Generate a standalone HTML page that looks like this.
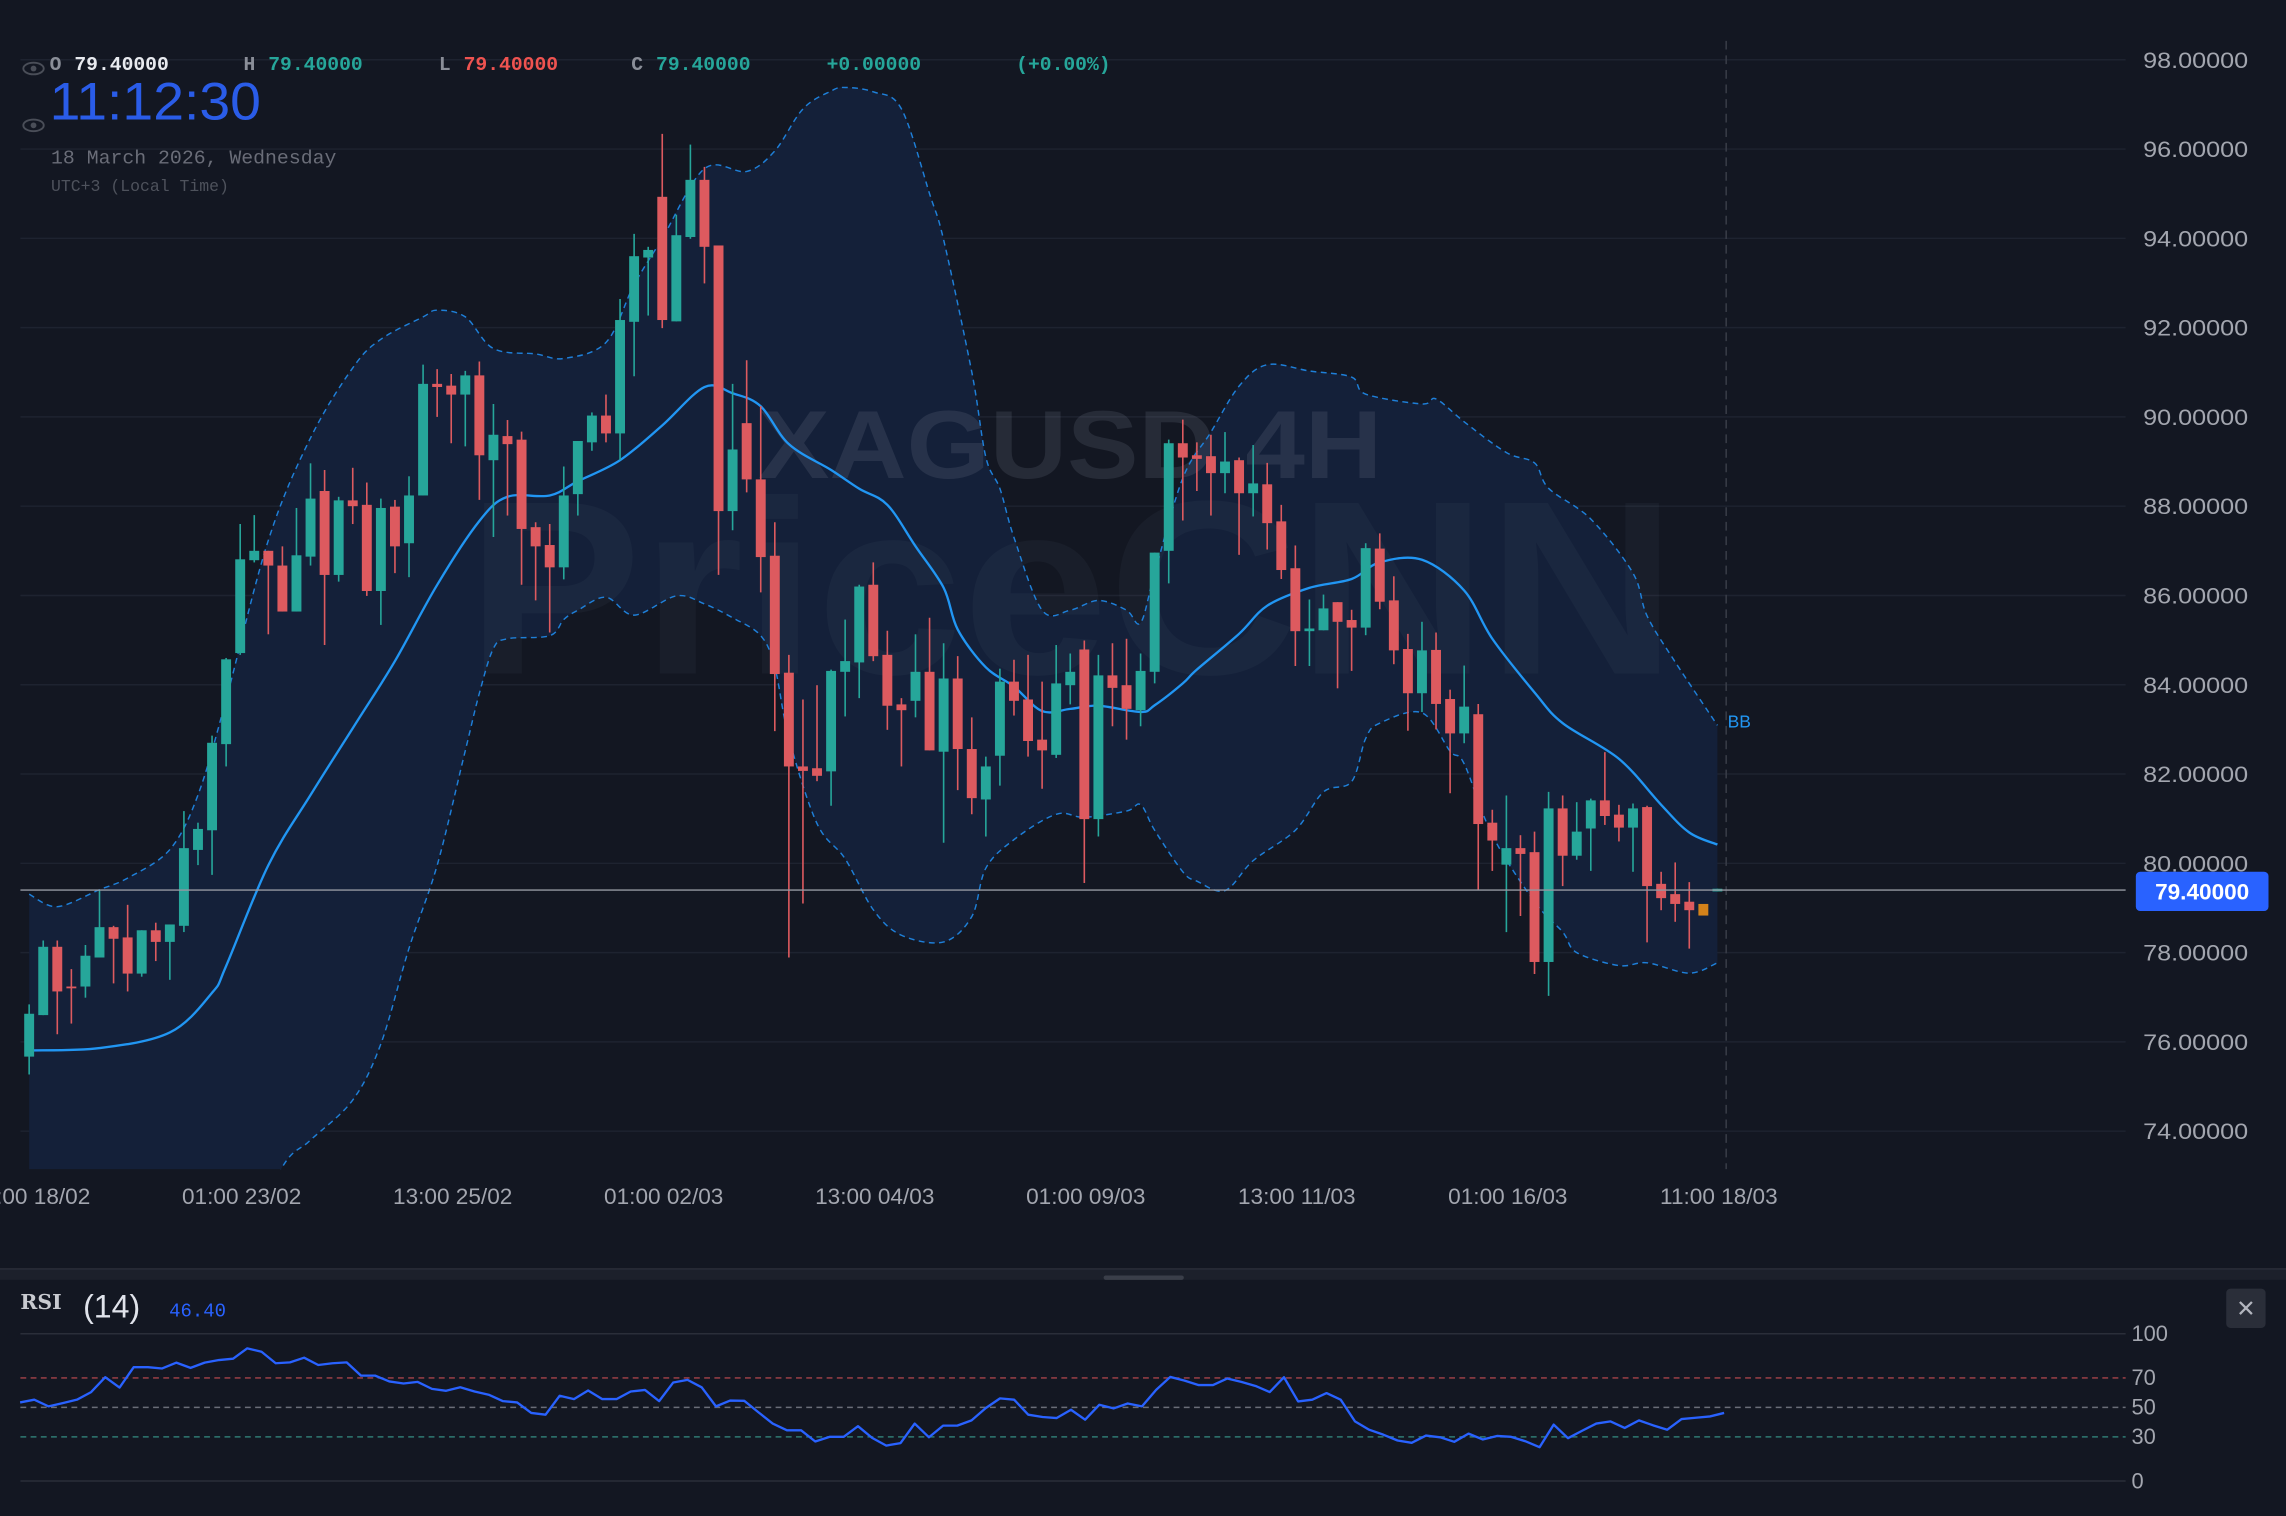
<!DOCTYPE html>
<html><head><meta charset="utf-8">
<style>
html,body{margin:0;padding:0;background:#131722;overflow:hidden}
svg{display:block}
</style></head>
<body>
<svg id="chart" width="2286" height="1516" viewBox="0 0 1568 1040" preserveAspectRatio="none" xmlns="http://www.w3.org/2000/svg">
  <rect x="0" y="0" width="1568" height="1040" fill="#131722"/>
  <defs><clipPath id="priceClip"><rect x="0" y="0" width="1460" height="802"/></clipPath></defs>
  <g id="grid"></g>
  <g id="bands" clip-path="url(#priceClip)"></g>
  <g id="watermark">
    <text x="520" y="328" font-family="Liberation Sans, sans-serif" font-size="66" font-weight="bold" textLength="428" lengthAdjust="spacingAndGlyphs" fill="rgba(140,150,170,0.16)">XAGUSD 4H</text>
    <text x="320" y="462" font-family="Liberation Sans, sans-serif" font-size="170" font-weight="bold" textLength="830" lengthAdjust="spacingAndGlyphs" fill="rgba(140,150,170,0.06)">PriceCNN</text>
  </g>
  <g id="bandLines" clip-path="url(#priceClip)"></g>
  <g id="candles" clip-path="url(#priceClip)"></g>
  <g id="axes"></g>
  <g id="rsi"></g>

  <g font-family="Liberation Mono, monospace" font-size="13.5" font-weight="bold">
    <text x="34" y="48" fill="#8a8e98">O</text>
    <text x="51" y="48" fill="#e8eaef">79.40000</text>
    <text x="167" y="48" fill="#8a8e98">H</text>
    <text x="184" y="48" fill="#26a69a">79.40000</text>
    <text x="301" y="48" fill="#8a8e98">L</text>
    <text x="318" y="48" fill="#ef5350">79.40000</text>
    <text x="433" y="48" fill="#8a8e98">C</text>
    <text x="450" y="48" fill="#26a69a">79.40000</text>
    <text x="567" y="48" fill="#26a69a">+0.00000</text>
    <text x="697" y="48" fill="#26a69a">(+0.00%)</text>
  </g>
  <g><ellipse cx="23" cy="47" rx="7" ry="4" fill="none" stroke="#4a4e58" stroke-width="1.3"/><circle cx="23" cy="47" r="2" fill="#4a4e58"/></g>
  <g><ellipse cx="23" cy="86" rx="7" ry="4" fill="none" stroke="#4a4e58" stroke-width="1.3"/><circle cx="23" cy="86" r="2" fill="#4a4e58"/></g>
  <text x="34" y="82" font-family="Liberation Sans, sans-serif" font-size="36" textLength="145" lengthAdjust="spacingAndGlyphs" fill="#2a5ce8">11:12:30</text>
  <text x="35" y="112" font-family="Liberation Mono, monospace" font-size="13.6" fill="#6a6d78">18 March 2026, Wednesday</text>
  <text x="35" y="131" font-family="Liberation Mono, monospace" font-size="11.3" fill="#4e525c">UTC+3 (Local Time)</text>

  <line x1="1184" y1="28" x2="1184" y2="802" stroke="#3a3e49" stroke-width="1" stroke-dasharray="6,4"/>
  <text x="1185" y="499" font-family="Liberation Sans, sans-serif" font-size="12" fill="#2196f3">BB</text>

  <rect x="0" y="870" width="1568" height="8" fill="#1c202b"/>
  <line x1="0" y1="870.5" x2="1568" y2="870.5" stroke="#2a2e39" stroke-width="1"/>
  <rect x="757" y="875" width="55" height="3" rx="1.5" fill="#3a3e49"/>
  <text x="14" y="898" font-family="DejaVu Serif, serif" font-size="14" font-weight="bold" fill="#c8cad0">RSI</text>
  <text x="57" y="904" font-family="Liberation Sans, sans-serif" font-size="22" fill="#e0e3eb">(14)</text>
  <text x="116" y="903" font-family="Liberation Mono, monospace" font-size="13" fill="#2962ff">46.40</text>
  <g>
    <rect x="1527" y="884" width="27" height="27" rx="3" fill="#2a2e39"/>
    <text x="1540.5" y="903" text-anchor="middle" font-family="DejaVu Sans, sans-serif" font-size="16" fill="#b2b5be">✕</text>
  </g>

  <line x1="14" y1="610.6" x2="1458" y2="610.6" stroke="#9598a1" stroke-width="1"/>
  <g>
    <rect x="1465" y="598" width="91" height="27" rx="3" fill="#2962ff"/>
    <text x="1510.5" y="617" text-anchor="middle" font-family="Liberation Sans, sans-serif" font-size="15.5" font-weight="bold" fill="#ffffff">79.40000</text>
  </g>
</svg>
<script>
const opens = [75.67,76.6,78.13,77.24,77.24,77.89,78.57,78.34,77.53,78.5,
78.24,78.6,80.3,80.74,82.67,84.71,86.79,87.0,86.67,85.64,
86.87,88.34,86.46,88.13,88.03,86.1,87.99,87.17,88.24,90.74,
90.7,90.5,90.93,89.03,89.57,89.49,87.53,87.13,86.63,88.27,
89.43,90.03,89.63,92.13,93.57,94.93,92.14,94.03,95.31,93.84,
87.89,89.86,88.6,86.89,84.27,82.17,82.13,82.06,84.29,84.5,
86.24,84.67,83.56,83.64,84.29,82.5,84.14,82.56,81.43,82.41,
84.07,83.67,82.77,82.43,83.99,84.79,80.99,84.21,83.99,83.43,
84.29,87.0,89.41,89.14,89.12,88.74,89.03,88.29,88.49,87.66,
86.61,85.2,85.22,85.85,85.45,85.28,87.05,85.89,84.8,83.81,
84.78,83.68,82.91,83.34,80.91,79.97,80.34,80.25,77.79,81.23,
80.17,80.78,81.41,81.09,80.8,81.26,79.54,79.31,79.14,79.09,
79.37];
const highs = [76.84,78.27,78.27,77.63,78.17,79.41,78.6,79.07,78.5,78.67,
78.63,81.17,80.91,82.86,84.6,87.6,87.8,87.0,87.1,87.96,
88.96,88.81,88.21,88.86,88.53,88.17,88.14,88.67,91.17,91.07,
90.96,91.03,91.24,90.29,89.93,89.67,87.64,87.6,88.89,89.46,
90.1,90.5,92.64,94.1,93.81,96.34,94.53,96.1,95.6,93.84,
90.74,91.27,90.24,87.64,84.67,83.67,83.99,84.34,85.46,86.24,
86.74,85.21,83.7,85.13,85.5,84.93,84.64,83.27,82.39,84.36,
84.56,84.67,84.07,84.89,84.7,84.99,84.67,84.93,85.03,84.7,
86.96,89.49,89.94,89.43,89.6,89.66,89.09,89.37,88.97,88.03,
87.12,85.91,86.02,85.85,85.68,87.17,87.39,86.43,85.14,85.41,
85.17,83.89,84.43,83.57,81.2,81.52,80.63,80.71,81.6,81.52,
81.37,81.45,82.49,81.31,81.34,81.29,79.81,80.02,79.58,79.09,
79.43];
const lows = [75.27,76.6,76.17,76.41,76.99,77.89,77.31,77.13,77.46,77.81,
77.39,78.46,79.96,79.74,82.17,84.67,86.74,85.13,85.64,85.64,
86.67,84.89,86.31,87.6,85.99,85.34,86.5,86.41,88.24,90.0,
89.41,89.34,88.14,87.31,87.79,86.24,85.89,85.17,86.36,87.79,
89.24,89.43,89.03,90.91,92.27,91.99,92.14,93.99,92.99,86.46,
87.46,88.31,86.07,82.96,77.89,79.1,81.84,81.29,83.29,83.7,
84.53,82.99,82.17,83.27,82.53,80.46,81.64,81.1,80.6,81.74,
83.31,82.39,81.67,82.36,83.56,79.56,80.6,83.07,82.77,83.07,
84.03,86.27,87.68,88.34,87.79,88.29,86.91,87.77,87.03,86.37,
84.42,84.42,85.22,83.92,84.31,85.11,85.69,84.46,82.97,83.39,
83.0,81.57,82.69,79.39,79.83,78.46,78.82,77.52,77.03,79.49,
80.08,79.83,80.86,80.49,79.81,78.23,78.95,78.69,78.09,78.83,
79.37];
const closes = [76.63,78.13,77.13,77.2,77.93,78.57,78.31,77.53,78.5,78.24,
78.63,80.34,80.77,82.7,84.57,86.81,87.0,86.67,85.64,86.9,
88.17,86.46,88.13,88.0,86.1,87.96,87.1,88.24,90.74,90.67,
90.5,90.93,89.14,89.6,89.39,87.49,87.1,86.63,88.24,89.46,
90.03,89.63,92.17,93.6,93.74,92.17,94.07,95.31,93.81,87.89,
89.27,88.6,86.86,84.24,82.17,82.07,81.96,84.31,84.53,86.2,
84.64,83.53,83.43,84.29,82.53,84.14,82.56,81.46,82.17,84.07,
83.64,82.74,82.53,84.03,84.29,80.99,84.21,83.93,83.46,84.31,
86.96,89.41,89.09,89.06,88.74,89.0,88.29,88.51,87.62,86.57,
85.2,85.26,85.71,85.41,85.28,87.06,85.86,84.77,83.81,84.77,
83.57,82.91,83.51,80.88,80.51,80.34,80.21,77.79,81.23,80.17,
80.71,81.41,81.06,80.8,81.23,79.49,79.22,79.09,78.95,78.83,
79.43];
const highlightIndex = 119;

const upperIdx = [0,2,5,7,10,12,14,17,20,23,25,28,29,31,33,36,38,41,43,45,48,51,53,55,57,58,60,62,64,65,67,68,69,70,72,74,76,78,79,80,82,84,86,88,91,94,95,99,100,102,105,107,108,111,114,115,117,120];
const upperVal = [79.31,79.03,79.41,79.67,80.31,81.53,83.67,87.24,89.53,91.1,91.74,92.24,92.39,92.24,91.53,91.41,91.31,91.67,92.96,94.0,95.56,95.5,95.96,96.9,97.3,97.38,97.28,96.9,95.0,93.96,91.0,89.1,88.39,87.3,85.67,85.67,85.89,85.67,85.39,86.5,88.63,89.66,90.69,91.17,91.03,90.89,90.51,90.29,90.4,89.89,89.2,88.97,88.4,87.71,86.5,85.54,84.51,83.09];
const midIdx = [0,5,10,13,14,17,20,23,26,29,32,34,37,39,42,45,48,50,52,54,57,59,61,63,65,66,68,70,72,74,76,79,80,82,83,86,88,91,94,96,99,102,104,107,109,113,116,118,120];
const midVal = [75.81,75.86,76.21,77.1,77.7,79.96,81.53,83.03,84.53,86.24,87.67,88.21,88.24,88.56,89.03,89.81,90.67,90.53,90.24,89.39,88.81,88.39,88.03,87.1,86.17,85.24,84.39,83.96,83.41,83.46,83.53,83.39,83.54,84.03,84.34,85.14,85.77,86.17,86.37,86.74,86.8,86.11,85.03,83.83,83.14,82.34,81.31,80.69,80.42];
const lowerIdx = [0,5,10,15,18,20,23,25,27,29,31,32,33,34,37,38,39,41,43,46,48,50,52,53,54,56,58,60,62,65,67,68,70,73,75,78,79,80,82,83,85,87,90,92,94,95,96,99,101,102,104,107,109,110,113,115,118,120];
const lowerVal = [71.5,71.2,71.0,71.2,73.2,73.8,74.7,75.96,78.1,79.96,82.53,83.81,84.81,85.03,85.1,85.46,85.67,85.96,85.56,85.99,85.81,85.5,85.1,84.39,82.81,80.89,80.1,78.96,78.39,78.24,78.81,79.89,80.53,81.1,81.03,81.17,81.31,80.74,79.81,79.6,79.39,80.06,80.74,81.6,81.83,82.8,83.14,83.37,82.51,82.23,80.63,79.14,78.46,78.0,77.71,77.77,77.54,77.77];

const rsiValues = [53.4,55.2,50.7,52.9,55.2,60.4,70.5,63.5,77.3,77.3,
76.4,80.4,76.8,80.4,82.2,83.1,90.1,87.8,80.0,80.6,
83.8,78.8,80.0,80.6,71.6,71.6,67.6,66.2,67.3,62.6,
61.3,63.7,60.8,58.6,54.3,53.4,46.2,45.0,57.9,55.6,
61.5,55.6,55.6,60.8,61.9,54.3,66.9,68.7,63.7,50.7,
54.7,54.5,46.6,39.0,34.5,34.5,26.8,30.0,30.0,37.2,
29.3,24.1,25.7,39.0,29.7,37.6,37.6,41.2,49.5,56.1,
55.2,45.0,43.5,42.8,48.4,41.7,51.8,49.3,52.7,50.7,
61.9,70.7,68.2,65.1,65.1,69.6,67.3,64.6,60.4,70.5,
54.1,55.2,59.7,55.2,40.5,34.9,31.5,27.5,25.9,30.9,
29.7,26.6,32.2,28.2,30.6,30.0,27.0,23.0,38.3,29.1,
34.2,39.0,40.5,36.0,41.2,37.8,34.9,42.1,43.0,43.9,
46.2];
const rsiLevels = [100,70,50,30,0];

const priceTicks = [98,96,94,92,90,88,86,84,82,80,78,76,74];
const timeLabelIdx = [0,15,30,45,60,75,90,105,120];
const timeLabels = ["01:00 18/02","01:00 23/02","13:00 25/02","01:00 02/03","13:00 04/03","01:00 09/03","13:00 11/03","01:00 16/03","11:00 18/03"];

const NS = 'http://www.w3.org/2000/svg';
const yP = p => 41 + (98 - p) * 30.625;
const xC = i => 20 + i * 9.65;
const xR = k => 13.8 + k * 9.74;
const yR = v => 1016 - v * 1.01;
function mk(tag, attrs, parent) {
  const e = document.createElementNS(NS, tag);
  for (const k in attrs) e.setAttribute(k, attrs[k]);
  parent.appendChild(e);
  return e;
}
const gGrid = document.getElementById('grid');
const gBands = document.getElementById('bands');
const gBL = document.getElementById('bandLines');
const gC = document.getElementById('candles');
const gAx = document.getElementById('axes');
const gR = document.getElementById('rsi');

priceTicks.forEach(p => {
  const l = mk('line', {x1: 14, x2: 1458, y1: yP(p), y2: yP(p), stroke: '#1e2330', 'stroke-width': 1}, gGrid);
  
  
  const t = mk('text', {x: 1470, y: yP(p) + 5.5, 'font-family': 'Liberation Sans, sans-serif', 'font-size': 15.5, textLength: 72, lengthAdjust: 'spacingAndGlyphs', fill: '#a3a6af'}, gAx);
  t.textContent = p.toFixed(5);
  
  
});
timeLabelIdx.forEach((i, n) => {
  const t = mk('text', {x: xC(i) + 1, y: 826, 'text-anchor': 'middle', 'font-family': 'Liberation Sans, sans-serif', 'font-size': 15.5, fill: '#a3a6af'}, gAx);
  t.textContent = timeLabels[n];
  
  
});

function pts(idx, val) { return idx.map((i, n) => [xC(i), yP(val[n])]); }
function smooth(a, start) {
  let d = start ? 'M' + a[0][0].toFixed(1) + ' ' + a[0][1].toFixed(1) : 'L' + a[0][0].toFixed(1) + ' ' + a[0][1].toFixed(1);
  for (let n = 0; n < a.length - 1; n++) {
    const p0 = a[Math.max(0, n - 1)], p1 = a[n], p2 = a[n + 1], p3 = a[Math.min(a.length - 1, n + 2)];
    const c1x = p1[0] + (p2[0] - p0[0]) / 6, c1y = p1[1] + (p2[1] - p0[1]) / 6;
    const c2x = p2[0] - (p3[0] - p1[0]) / 6, c2y = p2[1] - (p3[1] - p1[1]) / 6;
    d += ' C' + c1x.toFixed(1) + ' ' + c1y.toFixed(1) + ' ' + c2x.toFixed(1) + ' ' + c2y.toFixed(1) + ' ' + p2[0].toFixed(1) + ' ' + p2[1].toFixed(1);
  }
  return d;
}
const up = pts(upperIdx, upperVal), lo = pts(lowerIdx, lowerVal), md = pts(midIdx, midVal);
const fillD = smooth(up, true) + ' ' + smooth(lo.slice().reverse(), false) + ' Z';
const bf = mk('path', {d: fillD, fill: '#142039'}, gBands);


const bu = mk('path', {d: smooth(up, true), fill: 'none', stroke: '#1e7fd8', 'stroke-width': 1, 'stroke-dasharray': '4,3'}, gBL);


const bl = mk('path', {d: smooth(lo, true), fill: 'none', stroke: '#1e7fd8', 'stroke-width': 1, 'stroke-dasharray': '4,3'}, gBL);


const bm = mk('path', {d: smooth(md, true), fill: 'none', stroke: '#2196f3', 'stroke-width': 1.6}, gBL);



opens.forEach((o, i) => {
  const c = closes[i], h = highs[i], l = lows[i];
  let col = c >= o ? '#26a69a' : '#dd5a5f';
  if (i === highlightIndex) col = '#d4821a';
  const x = xC(i);
  const g = mk('g', {}, gC);
  
  
  if (i !== highlightIndex) {
    const w = mk('line', {x1: x, x2: x, y1: yP(h), y2: yP(l), stroke: col, 'stroke-width': 1.1}, g);
    
    
  }
  const top = yP(Math.max(o, c)), bot = yP(Math.min(o, c));
  const b = mk('rect', {x: x - 3.4, y: top, width: 6.8, height: Math.max(1.2, bot - top), fill: col}, g);
  
  
});

const rsiColors = {100: '#2a2e39', 70: '#a6434a', 50: '#6a6d78', 30: '#2f7a72', 0: '#2a2e39'};
rsiLevels.forEach(v => {
  const dashed = v !== 100 && v !== 0;
  const l = mk('line', {x1: 14, x2: 1458, y1: yR(v), y2: yR(v), stroke: rsiColors[v], 'stroke-width': 1}, gR);
  if (dashed) l.setAttribute('stroke-dasharray', '4,3');
  
  
  const t = mk('text', {x: 1462, y: yR(v) + 5, 'font-family': 'Liberation Sans, sans-serif', 'font-size': 15, fill: '#a3a6af'}, gR);
  t.textContent = String(v);
  
  
});
const rd = rsiValues.map((v, k) => (k ? 'L' : 'M') + xR(k).toFixed(1) + ' ' + yR(v).toFixed(1)).join(' ');
const rl = mk('path', {d: rd, fill: 'none', stroke: '#2962ff', 'stroke-width': 1.6, 'stroke-linejoin': 'round'}, gR);


</script>
</body></html>
